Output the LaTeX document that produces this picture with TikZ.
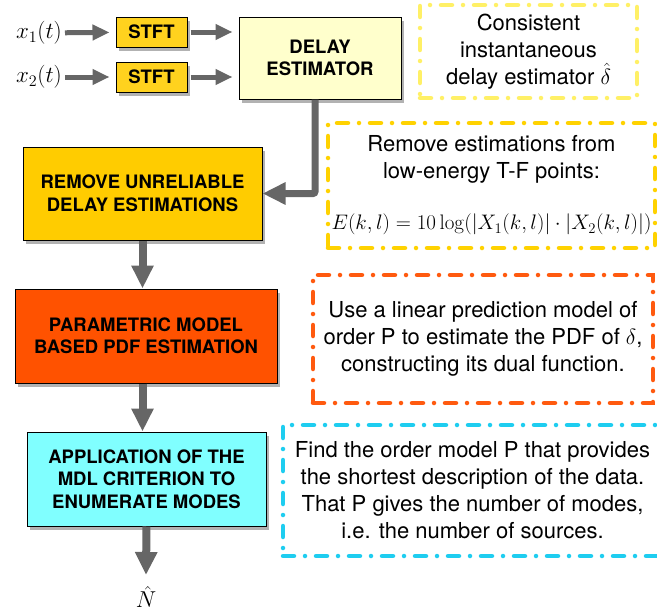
\RequirePackage{fix-cm}
\documentclass[tikz,border=0pt]{standalone}
\usepackage[no-math]{fontspec}
\setmainfont{TeX Gyre Heros}
\usetikzlibrary{arrows.meta,shadows}
\definecolor{arrowgray}{HTML}{666666}
\definecolor{stftfill}{HTML}{FFD21E}
\definecolor{delayfill}{HTML}{FFFFCC}
\definecolor{removefill}{HTML}{FFCC00}
\definecolor{paramfill}{HTML}{FF5200}
\definecolor{mdlfill}{HTML}{80FFFF}
\definecolor{noteyellow}{HTML}{FFF066}
\definecolor{notegold}{HTML}{FFD200}
\definecolor{noteorange}{HTML}{FF5A0F}
\definecolor{notecyan}{HTML}{1ECDF0}
\begin{document}
\begin{tikzpicture}[x=1pt,y=-1pt,
  blk/.style={draw=black, line width=1pt, align=center, inner sep=0pt,
    font=\fontsize{18.5}{22.5}\selectfont\bfseries,
    drop shadow={shadow xshift=3pt, shadow yshift=-4pt, fill=black, opacity=0.3}},
  note/.style={line width=4.5pt, dash pattern=on 11pt off 11pt on 0pt off 11pt,
    line cap=round, align=center, inner sep=0pt,
    font=\fontsize{22}{27}\selectfont},
  lbl/.style={inner sep=0pt, font=\fontsize{23}{27}\selectfont},
  thin arrow/.style={draw=arrowgray, line width=5pt,
    -{Triangle[length=17pt,width=15pt]}},
  thick arrow/.style={draw=arrowgray, line width=8pt,
    -{Triangle[length=23pt,width=21pt]}}]
\useasboundingbox (0,0) rectangle (657,613);
\clip (0,0) rectangle (657,613);

% input labels
\node[lbl, anchor=east] (x1) at (62,33) {$x_1(t)$};
\node[lbl, anchor=east] (x2) at (62,77) {$x_2(t)$};

% blocks
\node[blk, fill=stftfill, minimum width=71pt, minimum height=30pt] (s1) at (151.5,32) {STFT};
\node[blk, fill=stftfill, minimum width=71pt, minimum height=30pt] (s2) at (151.5,77) {STFT};
\node[blk, fill=delayfill, minimum width=162pt, minimum height=82pt] (de) at (320,58) {DELAY\\ESTIMATOR};
\node[blk, fill=removefill, minimum width=239pt, minimum height=93pt] (rm) at (142.5,193.5) {REMOVE UNRELIABLE\\DELAY ESTIMATIONS};
\node[blk, fill=paramfill, minimum width=262pt, minimum height=94pt] (pm) at (146,336) {PARAMETRIC MODEL\\BASED PDF ESTIMATION};
\node[blk, fill=mdlfill, minimum width=239pt, minimum height=94pt] (md) at (146.5,479) {APPLICATION OF THE\\MDL CRITERION TO\\ENUMERATE MODES};
\node[lbl] (nh) at (146,597) {$\hat{N}$};
\coordinate (nt) at (146,575);

% notes
\node[note, draw=noteyellow, minimum width=217pt, minimum height=93pt] (n1) at (528.5,51.5)
  {Consistent\\instantaneous\\delay estimator $\hat{\delta}$};
\node[note, draw=notegold, minimum width=327pt, minimum height=125pt] (n2) at (491.5,185.5)
  {Remove estimations from\\low-energy T-F points:\\[24pt]
   {\fontsize{21}{27}\selectfont $E(k,l)=10\log(|X_1(k,l)|\cdot|X_2(k,l)|)$}};
\node[note, draw=noteorange, minimum width=340pt, minimum height=128pt] (n3) at (483,339)
  {Use a linear prediction model of\\order P to estimate the PDF of $\delta$,\\constructing its dual function.};
\node[note, draw=notecyan, minimum width=379pt, minimum height=131pt] (n4) at (472.5,490.5)
  {Find the order model P that provides\\the shortest description of the data.\\That P gives the number of modes,\\i.e. the number of sources.};

% connectors
\draw[thin arrow, shorten <=3pt, shorten >=6pt] (x1) -- (s1);
\draw[thin arrow, shorten <=3pt, shorten >=6pt] (x2) -- (s2);
\draw[thin arrow, shorten <=3pt, shorten >=6pt] (s1.east) -- (s1.east -| de.west);
\draw[thin arrow, shorten <=3pt, shorten >=6pt] (s2.east) -- (s2.east -| de.west);
\draw[thick arrow, line width=7pt, rounded corners=2pt] ([xshift=-5pt]de.south) |- (rm.east);
\draw[thick arrow] (rm.south) -- (rm.south |- pm.north);
\draw[thick arrow] (pm.south -| rm.south) -- (md.north -| rm.south);
\draw[thick arrow] (md.south) -- (nt);
\end{tikzpicture}
\end{document}
